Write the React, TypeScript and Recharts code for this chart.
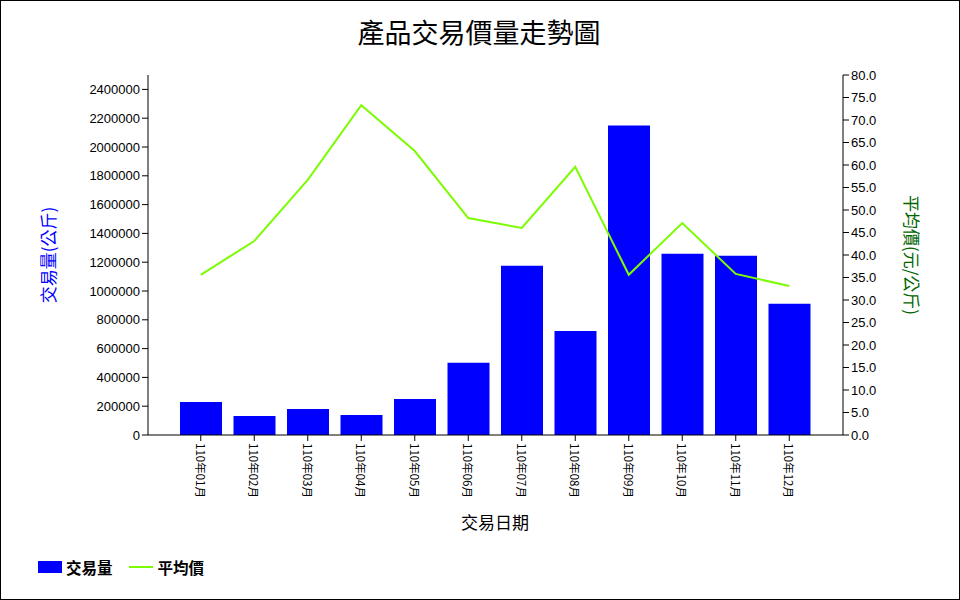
import { Bar, ComposedChart, Label, Legend, Line, XAxis, YAxis } from "recharts";

const months = [
  "110年01月", "110年02月", "110年03月", "110年04月", "110年05月", "110年06月",
  "110年07月", "110年08月", "110年09月", "110年10月", "110年11月", "110年12月",
];
const volumes = [230000, 132000, 181000, 139000, 250000, 501000, 1176000, 723000, 2150000, 1259000, 1245000, 911000];
const avgPrices = [35.6, 43.1, 56.7, 73.3, 63.1, 48.2, 46.0, 59.6, 35.6, 47.1, 35.8, 33.1];

const volumeTicks = [0, 200000, 400000, 600000, 800000, 1000000, 1200000, 1400000, 1600000, 1800000, 2000000, 2200000, 2400000];
const priceTicks = [0, 5, 10, 15, 20, 25, 30, 35, 40, 45, 50, 55, 60, 65, 70, 75, 80];

const chartData = months.map((m, i) => ({ month: m, volume: volumes[i], price: avgPrices[i] }));

const tickFont = { fontFamily: "'Liberation Sans', Arial, sans-serif", fontSize: 13, fill: "#000" };
const cjkFont = "'Noto Sans CJK TC', 'Noto Sans CJK SC', sans-serif";

const MonthTick = (props: any) => {
  const { x, y, payload } = props;
  return (
    <g transform={`translate(${x},${y})`}>
      <text x={0} y={0} transform="rotate(90)" textAnchor="start" dominantBaseline="central" fontSize={11.5} fontFamily={cjkFont} fill="#000">
        {payload.value}
      </text>
    </g>
  );
};

const LegendContent = () => (
  <div style={{ display: "flex", alignItems: "center", fontFamily: cjkFont, fontSize: 15.5, fontWeight: "bold", color: "#000" }}>
    <span style={{ display: "inline-block", width: 24, height: 12, background: "#0000FF", marginRight: 4 }} />
    <span style={{ marginRight: 16 }}>交易量</span>
    <span style={{ display: "inline-block", width: 24, height: 2, background: "#7CFC00", marginRight: 5 }} />
    <span>平均價</span>
  </div>
);

export default function App() {
  return (
    <div style={{ position: "absolute", left: 0, top: 0, width: 960, height: 600, background: "#fff", outline: "1px solid #000", outlineOffset: -1 }}>
      <div style={{ position: "absolute", left: 0, top: 12, width: 958, textAlign: "center", fontFamily: cjkFont, fontSize: 27, color: "#000" }}>
        產品交易價量走勢圖
      </div>
      <ComposedChart width={960} height={600} data={chartData} margin={{ top: 75, right: 47, left: 48, bottom: 105 }}>
        <XAxis
          dataKey="month"
          xAxisId="x"
          height={60}
          interval={0}
          padding={{ left: 26, right: 27 }}
          tick={<MonthTick />}
          tickSize={6}
          stroke="#000"
          tickLine={{ stroke: "#000" }}
        >
          <Label
            content={() => (
              <text x={495} y={521} textAnchor="middle" dominantBaseline="central" fontSize={17} fontFamily={cjkFont} fill="#000">
                交易日期
              </text>
            )}
          />
        </XAxis>
        <YAxis
          yAxisId="vol"
          orientation="left"
          width={100}
          domain={[0, 2500000]}
          ticks={volumeTicks}
          interval={0}
          tick={tickFont}
          tickSize={6}
          stroke="#000"
          allowDataOverflow
        >
          <Label
            content={() => (
              <text x={47} y={255} transform="rotate(-90 47 255)" textAnchor="middle" dominantBaseline="central" fontSize={17} fontFamily={cjkFont} fill="#0000FF">
                交易量(公斤)
              </text>
            )}
          />
        </YAxis>
        <YAxis
          yAxisId="price"
          orientation="right"
          width={70}
          domain={[0, 80]}
          ticks={priceTicks}
          interval={0}
          tick={tickFont}
          tickFormatter={(v: number) => v.toFixed(1)}
          tickSize={6}
          stroke="#000"
          allowDataOverflow
        >
          <Label
            content={() => (
              <text x={912} y={255} transform="rotate(90 912 255)" textAnchor="middle" dominantBaseline="central" fontSize={17} fontFamily={cjkFont} fill="#006400">
                平均價(元/公斤)
              </text>
            )}
          />
        </YAxis>
        <Legend
          verticalAlign="middle"
          align="center"
          layout="horizontal"
          content={<LegendContent />}
          wrapperStyle={{ top: 556, left: 38, width: 250, height: 20 }}
        />
        <Bar dataKey="volume" name="交易量" xAxisId="x" yAxisId="vol" fill="#0000FF" barSize={42} isAnimationActive={false} />
        <Line dataKey="price" name="平均價" xAxisId="x" yAxisId="price" type="linear" stroke="#7CFC00" strokeWidth={2} dot={false} isAnimationActive={false} />
      </ComposedChart>
    </div>
  );
}
